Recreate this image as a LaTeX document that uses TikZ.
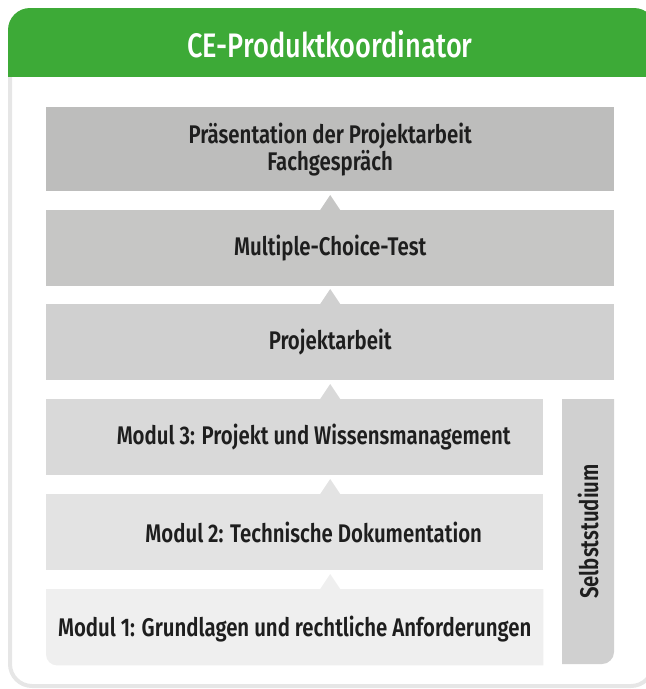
\documentclass[tikz,border=0pt]{standalone}
\usepackage{fontspec}
\setmainfont{Fira Sans}
\newfontfamily\titlefont[FakeStretch=0.8]{Fira Sans Medium}
\newfontfamily\stagefont[FakeStretch=0.8]{Fira Sans SemiBold}
\usetikzlibrary{calc}
\definecolor{cegreen}{HTML}{3DAA37}
\definecolor{framegray}{HTML}{E6E6E6}
\definecolor{stageA}{HTML}{BDBDBC}
\definecolor{stageB}{HTML}{C6C6C5}
\definecolor{stageC}{HTML}{D0D0D0}
\definecolor{stageD}{HTML}{D9D9D9}
\definecolor{stageE}{HTML}{E3E3E3}
\definecolor{stageF}{HTML}{EFEFEF}
\definecolor{stagetext}{HTML}{1E1E1E}

\begin{document}
\begin{tikzpicture}[x=1pt,y=-1pt,
		stage/.style={rectangle,anchor=north west,inner sep=0pt,minimum height=76pt,
			align=center,text=stagetext,font=\stagefont\fontsize{25.5}{23.5}\selectfont},
		wide/.style={stage,minimum width=568pt},
		narrow/.style={stage,minimum width=497pt}]
	\useasboundingbox (0,0) rectangle (646,689);
	% frame and header
	\draw[framegray,line width=4pt,rounded corners=22pt] (10,60) -- (10,686) -- (653,686) -- (653,60);
	\begin{scope}
		\clip (0,0) rectangle (646,76);
		\fill[cegreen,rounded corners=22pt] (8,8) rectangle (656,120);
	\end{scope}
	\node[text=white,font=\titlefont\fontsize{34}{40}\selectfont] (title) at (330,44) {CE-Produktkoordinator};

	% stages
	\node[wide,fill=stageA,minimum height=84pt] (praes) at (46,107) {Präsentation der Projektarbeit\\Fachgespräch};
	\node[wide,fill=stageB] (mc) at (46,210) {Multiple-Choice-Test};
	\node[wide,fill=stageC] (projekt) at (46,304) {Projektarbeit};
	\node[narrow,fill=stageD] (modul3) at (46,399) {\hspace*{38pt}Modul 3: Projekt und Wissensmanagement};
	\node[narrow,fill=stageE] (modul2) at (46,494) {\hspace*{38pt}Modul 2: Technische Dokumentation};
	\node[narrow] (modul1) at (46,589) {};
	\fill[stageF] (modul1.north west) [rounded corners=11pt] -- (modul1.south west) [sharp corners] -- (modul1.south east) -- (modul1.north east) -- cycle;
	\node[stage,anchor=center] (modul1text) at ($(modul1.center)+(0,2)$) {Modul 1: Grundlagen und rechtliche Anforderungen};

	% side bar
	\coordinate (sideTop) at (562,399);
	\coordinate (sideBot) at (614,664);
	\fill[stageC] (sideTop) -- (sideTop |- sideBot) [rounded corners=12pt] -- (sideBot) [sharp corners] -- (sideBot |- sideTop) -- cycle;
	\node[rotate=90,text=stagetext,font=\stagefont\fontsize{25.5}{30}\selectfont] (selbst) at ($(sideTop)!0.5!(sideBot)$) {Selbststudium};

	% triangles
	\foreach \lower/\col in {mc/stageB,projekt/stageC,modul3/stageD,modul2/stageE,modul1/stageF}
		\fill[\col] ($(\lower.north -| praes.north)+(-10,0)$) -- ++(10,-15) -- ++(10,15) -- cycle;
\end{tikzpicture}
\end{document}
